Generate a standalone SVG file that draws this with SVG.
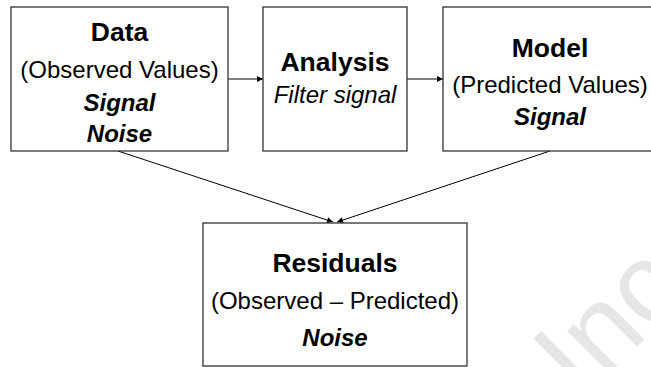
<svg xmlns="http://www.w3.org/2000/svg" width="651" height="367" viewBox="0 0 651 367">
<style>
.box{fill:#fff;stroke:#333;stroke-width:1.3}
.t{font-family:"Liberation Sans",Arial,sans-serif;fill:#000;text-anchor:middle}
.h{font-size:26.5px;font-weight:bold}
.r{font-size:24px}
.bi{font-size:24px;font-weight:bold;font-style:italic}
.i{font-size:24px;font-style:italic}
.c{stroke:#000;stroke-width:1;fill:none;marker-end:url(#ah)}
.wm{font-family:"Liberation Sans",Arial,sans-serif;font-size:115px;fill:#e6e6e6}
</style>
<defs>
<marker id="ah" viewBox="0 0 10 10" refX="10" refY="5" markerWidth="7" markerHeight="6" markerUnits="userSpaceOnUse" orient="auto">
<path d="M0,0 L10,5 L0,10 z" fill="#000"/>
</marker>
</defs>
<rect width="651" height="367" fill="#fff"/>
<text class="wm" x="582" y="402" transform="rotate(-45 582 402)">Inc</text>
<g id="connectors">
<line class="c" x1="228" y1="79" x2="263" y2="79"/>
<line class="c" x1="407" y1="79" x2="443" y2="79"/>
<line class="c" x1="118" y1="151" x2="333" y2="222"/>
<line class="c" x1="550" y1="151" x2="337" y2="222"/>
</g>
<g id="data">
<rect class="box" x="11" y="7" width="217" height="144"/>
<text class="t h" x="119.5" y="41">Data</text>
<text class="t r" x="119.5" y="78">(Observed Values)</text>
<text class="t bi" x="119.5" y="111">Signal</text>
<text class="t bi" x="119.5" y="142">Noise</text>
</g>
<g id="analysis">
<rect class="box" x="263" y="7" width="144" height="144"/>
<text class="t h" x="335" y="71">Analysis</text>
<text class="t i" x="335" y="103">Filter signal</text>
</g>
<g id="model">
<rect class="box" x="443" y="7" width="214" height="144"/>
<text class="t h" x="550" y="57">Model</text>
<text class="t r" x="550" y="93">(Predicted Values)</text>
<text class="t bi" x="550" y="125">Signal</text>
</g>
<g id="residuals">
<rect class="box" x="203" y="223" width="264" height="143"/>
<text class="t h" x="335" y="272">Residuals</text>
<text class="t r" x="335" y="309">(Observed – Predicted)</text>
<text class="t bi" x="335" y="346">Noise</text>
</g>
</svg>
